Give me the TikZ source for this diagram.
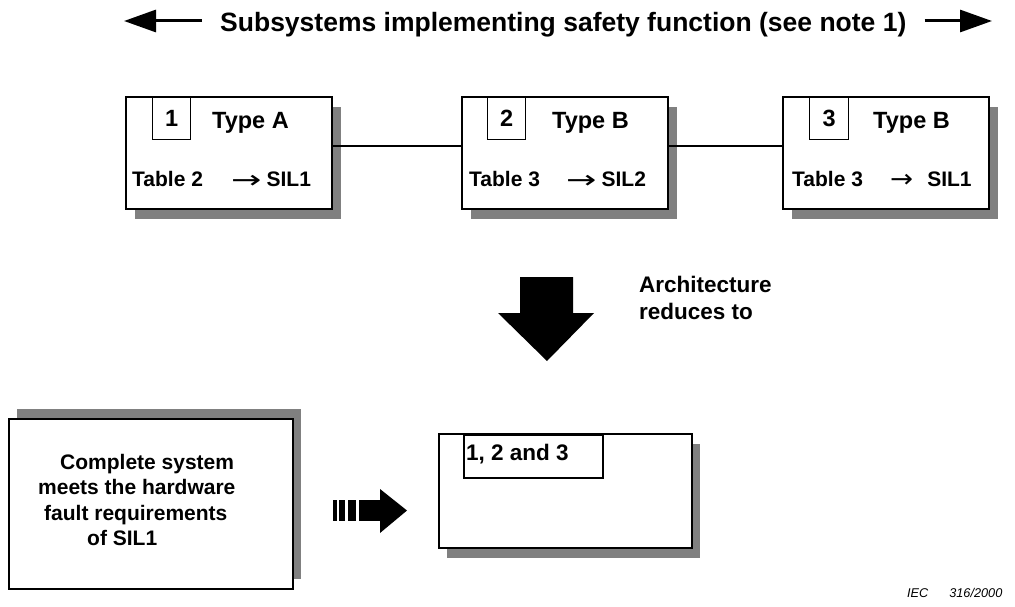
\documentclass[tikz,border=0pt]{standalone}
\usepackage{fontspec}
\usepackage{graphicx}
\setmainfont{Liberation Sans}
\newfontfamily\arrowfont{DejaVu Sans}
\usetikzlibrary{arrows.meta,shadows}
\begin{document}
\begin{tikzpicture}[x=1pt,y=-1pt,
        subsys/.style={rectangle,draw=black,fill=white,line width=1.4pt,
          inner sep=0pt,minimum width=206pt,minimum height=112pt,
          general shadow={fill=black!50,shadow xshift=9pt,shadow yshift=-10pt}},
        numbox/.style={rectangle,draw=black,line width=1.2pt,anchor=north west,
          inner sep=0pt,minimum width=38pt,minimum height=42pt,
          font=\fontsize{23.5}{26}\selectfont\bfseries},
        typetxt/.style={anchor=base west,inner sep=0pt,
          font=\fontsize{23.5}{26}\selectfont\bfseries},
        tabtxt/.style={anchor=base west,inner sep=0pt,
          font=\fontsize{21}{24}\selectfont\bfseries},
        wide/.style={line width=3pt,-{Triangle[length=32pt,width=22pt]}}]
      \useasboundingbox (0,0) rectangle (1015,607);
      % heading with its two arrows
      \node (title) at (202,31.5) [anchor=base west,inner xsep=18pt,inner ysep=0pt,
        font=\fontsize{26.5}{30}\selectfont\bfseries]
        {Subsystems implementing safety function (see note 1)};
      \coordinate (ltip) at (124,21);
      \coordinate (rtip) at (992,21);
      \draw[wide] (ltip -| title.west) -- (ltip);
      \draw[wide] (rtip -| title.east) -- (rtip);
      % the three subsystems
      \node (b1) at (229,153) [subsys] {};
      \node (b2) at (565,153) [subsys] {};
      \node (b3) at (886,153) [subsys] {};
      \draw[line width=1.4pt] ([yshift=7pt]b1.east) -- ([yshift=7pt]b2.west);
      \draw[line width=1.4pt] ([yshift=7pt]b2.east) -- ([yshift=7pt]b3.west);
      \node (n1) at (152,97) [numbox] {1};
      \node (n2) at (487,97) [numbox] {2};
      \node (n3) at (809,97) [numbox,minimum width=39pt] {3};
      \node (t1) at (212,128.3) [typetxt] {Type A};
      \node (t2) at (552,128.3) [typetxt] {Type B};
      \node (t3) at (873,128.3) [typetxt] {Type B};
      \node (tab1) at (132,186) [tabtxt] {Table 2};
      \node (tab2) at (469,186) [tabtxt] {Table 3};
      \node (tab3) at (792,186) [tabtxt] {Table 3};
      \node (s1) at (231,186) [tabtxt]
        {\raisebox{-2pt}{\scalebox{1.45}[1]{\fontsize{25}{26}\arrowfont\mdseries →}}\hspace{5pt}SIL1};
      \node (s2) at (566,186) [tabtxt]
        {\raisebox{-2pt}{\scalebox{1.45}[1]{\fontsize{25}{26}\arrowfont\mdseries →}}\hspace{5pt}SIL2};
      \node (s3) at (890,186) [tabtxt]
        {\raisebox{-1pt}{\scalebox{1.1}[1]{\fontsize{25}{26}\arrowfont\mdseries →}}\hspace{14pt}SIL1};
      % block arrow down
      \fill (520,277) -- (573,277) -- (573,313) -- (594,313) -- (547,361)
        -- (498,313) -- (520,313) -- cycle;
      \node (arch) at (639,298.3) [anchor=west,align=left,inner sep=0pt,
        font=\fontsize{22.5}{27}\selectfont\bfseries] {Architecture\\reduces to};
      % reduced system
      \node (all) at (565.5,491) [rectangle,draw=black,fill=white,line width=2.5pt,
        inner sep=0pt,minimum width=253pt,minimum height=114pt,
        general shadow={fill=black!50,shadow xshift=8pt,shadow yshift=-10pt}] {};
      \node (nall) at (463,434) [rectangle,draw=black,line width=1.8pt,anchor=north west,
        inner sep=0pt,minimum width=139pt,minimum height=43pt] {};
      \node (tall) at (466,460) [typetxt,font=\fontsize{22.5}{26}\selectfont\bfseries]
        {1, 2 and 3};
      % result
      \node (res) at (151,504) [rectangle,draw=black,fill=white,line width=1.5pt,
        inner sep=0pt,minimum width=284pt,minimum height=170pt,
        general shadow={fill=black!50,shadow xshift=8pt,shadow yshift=10pt}] {};
      \node (restxt) at (38,500) [anchor=west,align=left,inner sep=0pt,
        font=\fontsize{21}{25.5}\selectfont\bfseries]
        {\hspace*{22pt}Complete system\\meets the hardware\\
         \hspace*{6pt}fault requirements\\\hspace*{49pt}of SIL1};
      % striped arrow
      \fill (333,500) rectangle (337,521);
      \fill (339,500) rectangle (345,521);
      \fill (348,500) rectangle (356,521);
      \fill (359,500) rectangle (381,521);
      \fill (380,489) -- (407,510.5) -- (380,533) -- cycle;
      \node (iec) at (907,597) [anchor=base west,inner sep=0pt,
        font=\fontsize{12.7}{14}\selectfont\itshape] {IEC\hspace{21pt}316/2000};
\end{tikzpicture}
\end{document}
